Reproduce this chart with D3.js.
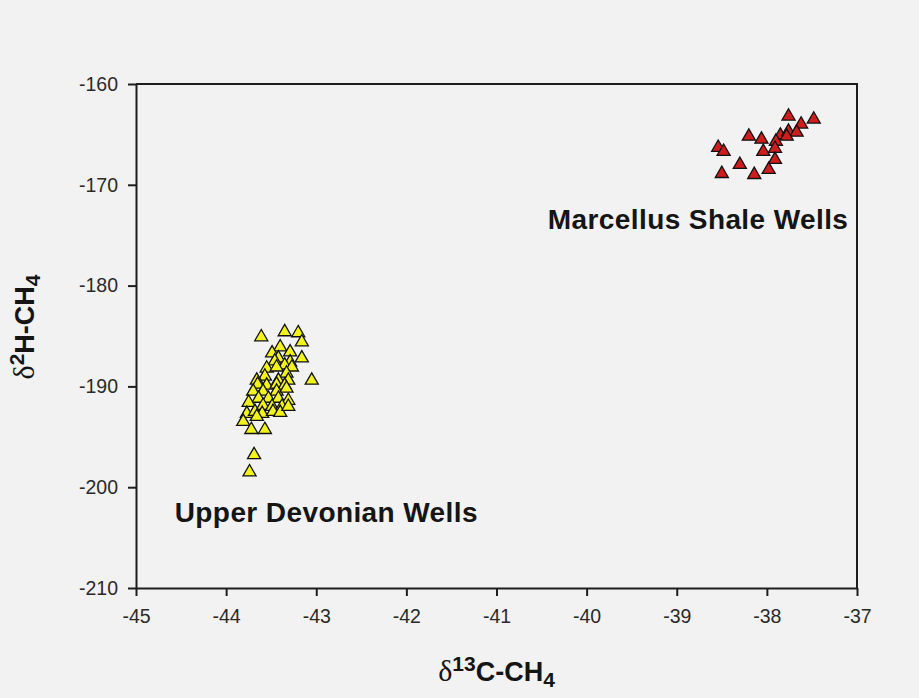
<!DOCTYPE html>
<html>
<head>
<meta charset="utf-8">
<script src="https://cdn.jsdelivr.net/npm/d3@7"></script>
<style>
  html, body { margin: 0; padding: 0; background: #f2f2f2; }
  svg { display: block; }
</style>
</head>
<body>
<svg id="chart" width="919" height="698"></svg>
<script>
// ---- Data ----
const xTicks = [-45, -44, -43, -42, -41, -40, -39, -38, -37];
const yTicks = [-160, -170, -180, -190, -200, -210];

const marcellusD13C = [-37.76, -37.48, -37.62, -38.20, -38.06, -37.85, -37.76, -37.67, -37.78, -37.90,
                       -37.91, -38.04, -38.54, -38.48, -38.30, -37.91, -37.98, -38.50, -38.14];
const marcellusD2H  = [-163.2, -163.5, -164.0, -165.2, -165.5, -165.1, -164.7, -164.8, -165.2, -165.7,
                       -166.4, -166.7, -166.3, -166.7, -168.0, -167.5, -168.5, -168.9, -169.0];

const devonianD13C = [-43.61, -43.35, -43.20, -43.16, -43.40, -43.29, -43.49, -43.16, -43.42, -43.46,
                      -43.29, -43.35, -43.55, -43.44, -43.27, -43.33, -43.57, -43.05, -43.66, -43.42,
                      -43.31, -43.65, -43.55, -43.44, -43.35, -43.70, -43.59, -43.44, -43.33, -43.64,
                      -43.53, -43.42, -43.75, -43.31, -43.59, -43.49, -43.38, -43.77, -43.68, -43.60,
                      -43.48, -43.40, -43.31, -43.81, -43.66, -43.72, -43.57, -43.69, -43.74];
const devonianD2H  = [-185.1, -184.6, -184.7, -185.6, -186.1, -186.6, -186.7, -187.2, -187.2, -187.5,
                      -187.6, -187.9, -188.2, -188.1, -188.1, -188.7, -189.0, -189.4, -189.4, -189.4,
                      -189.4, -189.8, -189.9, -189.8, -189.9, -190.5, -190.5, -190.5, -190.2, -191.2,
                      -191.2, -191.2, -191.6, -191.4, -191.9, -192.0, -192.0, -192.7, -192.5, -192.7,
                      -192.5, -192.6, -192.0, -193.5, -193.0, -194.3, -194.3, -196.8, -198.5];

const groupLabels = ["Marcellus Shale Wells", "Upper Devonian Wells"];
const groupLabelX = [-40.43, -44.57];
const groupLabelY = [-174.4, -203.5];

// ---- Layout ----
const svg = d3.select("#chart");
const W = 919, H = 698;
const m = { left: 136, right: 62, top: 84, bottom: 110 };
const pw = W - m.left - m.right, ph = H - m.top - m.bottom;

svg.append("rect").attr("width", W).attr("height", H).attr("fill", "#f2f2f2");

const x = d3.scaleLinear().domain([-45, -37]).range([m.left, m.left + pw]);
const y = d3.scaleLinear().domain([-210, -160]).range([m.top + ph, m.top]);

const axisColor = "#1e1e1e";

// frame (top & right)
svg.append("path")
  .attr("d", `M${x(-45)},${y(-160)}H${x(-37)}V${y(-210)}`)
  .attr("fill", "none").attr("stroke", axisColor).attr("stroke-width", 2);

// axes
const xAxis = svg.append("g")
  .attr("transform", `translate(0,${y(-210)})`)
  .call(d3.axisBottom(x).tickValues(xTicks).tickSize(8).tickPadding(13).tickSizeOuter(0).tickFormat(d3.format("d")));
const yAxis = svg.append("g")
  .attr("transform", `translate(${x(-45)},0)`)
  .call(d3.axisLeft(y).tickValues(yTicks).tickSize(8).tickPadding(10).tickSizeOuter(0).tickFormat(d3.format("d")));

[xAxis, yAxis].forEach(g => {
  g.select(".domain").attr("stroke", axisColor).attr("stroke-width", 2);
  g.selectAll(".tick line").attr("stroke", axisColor).attr("stroke-width", 2);
  g.selectAll(".tick text")
    .attr("fill", "#2a2a2a")
    .style("font-family", "'Liberation Sans', Arial, sans-serif")
    .style("font-size", "19.5px");
});
// use ASCII hyphen-minus as in reference
xAxis.selectAll(".tick text").text(d => "-" + Math.abs(d));
yAxis.selectAll(".tick text").text(d => "-" + Math.abs(d));

// ---- Points ----
const tri = d3.symbol().type(d3.symbolTriangle).size(74);

const marcellus = marcellusD13C.map((v, i) => ({ x: v, y: marcellusD2H[i] }));
const devonian = devonianD13C.map((v, i) => ({ x: v, y: devonianD2H[i] }));

function drawPoints(data, fill) {
  svg.append("g").selectAll("path").data(data).join("path")
    .attr("d", tri)
    .attr("transform", d => `translate(${x(d.x)},${y(d.y)})`)
    .attr("fill", fill)
    .attr("stroke", "#111")
    .attr("stroke-width", 1.3);
}
drawPoints(devonian, "#f2f21c");
drawPoints(marcellus, "#cf1d1d");

// ---- Group labels ----
svg.append("g").selectAll("text").data(groupLabels).join("text")
  .attr("x", (d, i) => x(groupLabelX[i]))
  .attr("y", (d, i) => y(groupLabelY[i]))
  .text(d => d)
  .attr("fill", "#151515")
  .style("font-family", "'Liberation Sans', Arial, sans-serif")
  .style("font-weight", "bold")
  .style("font-size", "28px")
  .style("letter-spacing", "0.4px");

// ---- Axis titles ----
const fam = "'Liberation Sans', Arial, sans-serif";
const xt = svg.append("text")
  .attr("x", x(-41)).attr("y", 681)
  .attr("text-anchor", "middle")
  .attr("fill", "#151515")
  .style("font-family", fam).style("font-weight", "bold").style("font-size", "27px");
xt.append("tspan").text("δ").style("font-family", "'Liberation Serif', 'Times New Roman', serif").style("font-weight", "normal").style("font-size", "30px");
xt.append("tspan").text("13").attr("dy", -10).style("font-size", "21px");
xt.append("tspan").text("C-CH").attr("dy", 10);
xt.append("tspan").text("4").attr("dy", 6).style("font-size", "21px");

const yt = svg.append("text")
  .attr("transform", `translate(34,${y(-185) - 9}) rotate(-90)`)
  .attr("text-anchor", "middle")
  .attr("fill", "#151515")
  .style("font-family", fam).style("font-weight", "bold").style("font-size", "27px");
yt.append("tspan").text("δ").style("font-family", "'Liberation Serif', 'Times New Roman', serif").style("font-weight", "normal").style("font-size", "30px");
yt.append("tspan").text("2").attr("dy", -10).style("font-size", "21px");
yt.append("tspan").text("H-CH").attr("dy", 10);
yt.append("tspan").text("4").attr("dy", 6).style("font-size", "21px");
</script>
</body>
</html>
